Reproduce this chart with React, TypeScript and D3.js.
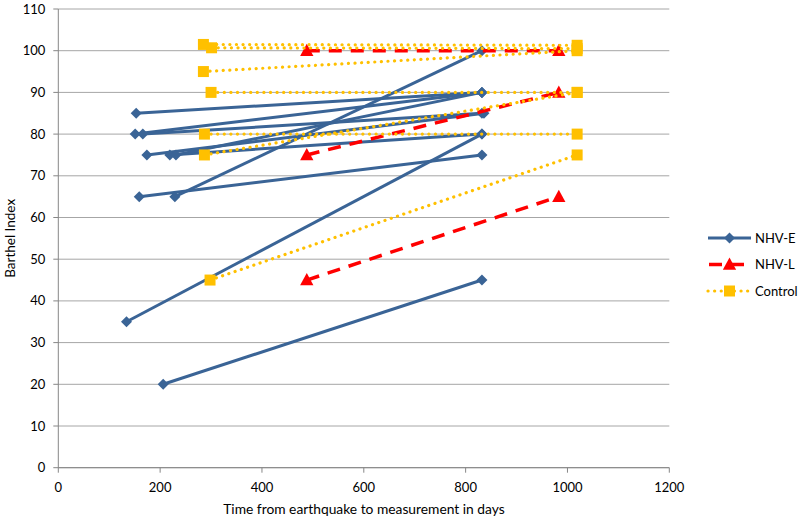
import React from "react";
import * as d3 from "d3";

// NHV-E (each patient: first and second measurement)
const eStartDays = [153, 151, 166, 174, 219, 231, 159, 229, 134, 206];
const eStartScores = [85, 80, 80, 75, 75, 75, 65, 65, 35, 20];
const eEndDays = [832, 832, 832, 836, 832, 832, 832, 832, 832, 832];
const eEndScores = [90, 90, 85, 85, 80, 90, 75, 100, 80, 45];

// NHV-L
const lStartDays = [488, 488, 488];
const lStartScores = [100, 75, 45];
const lEndDays = [983, 983, 983];
const lEndScores = [100, 90, 65];

// Control
const cStartDays = [285, 301, 285, 300, 287, 287, 298];
const cStartScores = [101.5, 100.7, 95, 90, 80, 75, 45];
const cEndDays = [1019, 1019, 1019, 1019, 1019, 1019, 1019];
const cEndScores = [101.3, 100.5, 100, 90, 80, 90, 75];

const xTicks = [0, 200, 400, 600, 800, 1000, 1200];
const yTicks = [0, 10, 20, 30, 40, 50, 60, 70, 80, 90, 100, 110];
const seriesNames = ["NHV-E", "NHV-L", "Control"];

const W = 798;
const H = 521;
const FONT = "Lato, 'Open Sans', sans-serif";

const BLUE = "#3A6496";
const RED = "#FF0000";
const YELLOW = "#FFC000";

const x = d3.scaleLinear().domain([0, 1200]).range([58.3, 669.3]);
const y = d3.scaleLinear().domain([0, 110]).range([467.7, 9]);

function diamond(cx: number, cy: number, r = 5.5) {
  return `M${cx},${cy - r}L${cx + r},${cy}L${cx},${cy + r}L${cx - r},${cy}Z`;
}
function triangle(cx: number, cy: number, r = 7) {
  return `M${cx},${cy - r}L${cx + r * 0.95},${cy + r * 0.75}L${cx - r * 0.95},${cy + r * 0.75}Z`;
}
function square(cx: number, cy: number, r = 5.5) {
  return `M${cx - r},${cy - r}h${2 * r}v${2 * r}h${-2 * r}Z`;
}

type Seg = { x0: number; y0: number; x1: number; y1: number };
function segs(sd: number[], ss: number[], ed: number[], es: number[]): Seg[] {
  return sd.map((d, i) => ({ x0: x(d), y0: y(ss[i]), x1: x(ed[i]), y1: y(es[i]) }));
}

const line = d3.line<[number, number]>();

export default function App() {
  const eSegs = segs(eStartDays, eStartScores, eEndDays, eEndScores);
  const lSegs = segs(lStartDays, lStartScores, lEndDays, lEndScores);
  const cSegs = segs(cStartDays, cStartScores, cEndDays, cEndScores);

  const legendY = [238, 264.5, 291];
  return (
    <svg
      width={W}
      height={H}
      style={{ position: "absolute", left: 0, top: 0, background: "#fff" }}
      fontFamily={FONT}
    >
      {/* gridlines */}
      {yTicks.map((t) => (
        <line key={t} x1={x(0)} x2={x(1200)} y1={y(t)} y2={y(t)} stroke="#a6a6a6" strokeWidth={1} />
      ))}
      {/* axes */}
      <line x1={x(0)} x2={x(0)} y1={y(0)} y2={y(110)} stroke="#868686" strokeWidth={1} />
      <line x1={x(0)} x2={x(1200)} y1={y(0)} y2={y(0)} stroke="#868686" strokeWidth={1} />
      {yTicks.map((t) => (
        <g key={"yt" + t}>
          <line x1={x(0) - 5} x2={x(0)} y1={y(t)} y2={y(t)} stroke="#868686" />
          <text x={x(0) - 13} y={y(t)} dy="0.35em" textAnchor="end" fontSize={13} fill="#000">
            {t}
          </text>
        </g>
      ))}
      {xTicks.map((t) => (
        <g key={"xt" + t}>
          <line x1={x(t)} x2={x(t)} y1={y(0)} y2={y(0) + 5} stroke="#868686" />
          <text x={x(t)} y={y(0) + 24} textAnchor="middle" fontSize={13} fill="#000">
            {t}
          </text>
        </g>
      ))}
      <text x={364} y={514} textAnchor="middle" fontSize={13.8} fill="#000">
        Time from earthquake to measurement in days
      </text>
      <text
        transform={`translate(15,${(y(0) + y(110)) / 2}) rotate(-90)`}
        textAnchor="middle"
        fontSize={13.5}
        fill="#000"
      >
        Barthel Index
      </text>

      {/* NHV-E */}
      {eSegs.map((s, i) => (
        <g key={"e" + i}>
          <path d={line([[s.x0, s.y0], [s.x1, s.y1]]) || ""} stroke={BLUE} strokeWidth={3} fill="none" />
          <path d={diamond(s.x0, s.y0)} fill={BLUE} />
          <path d={diamond(s.x1, s.y1)} fill={BLUE} />
        </g>
      ))}
      {/* NHV-L */}
      {lSegs.map((s, i) => (
        <g key={"l" + i}>
          <path
            d={line([[s.x0, s.y0], [s.x1, s.y1]]) || ""}
            stroke={RED}
            strokeWidth={3.5}
            strokeDasharray="13,9"
            fill="none"
          />
          <path d={triangle(s.x0, s.y0)} fill={RED} />
          <path d={triangle(s.x1, s.y1)} fill={RED} />
        </g>
      ))}
      {/* Control */}
      {cSegs.map((s, i) => (
        <g key={"c" + i}>
          <path
            d={line([[s.x0, s.y0], [s.x1, s.y1]]) || ""}
            stroke={YELLOW}
            strokeWidth={3.2}
            strokeDasharray="0.1,6.5"
            strokeLinecap="round"
            fill="none"
          />
          <path d={square(s.x0, s.y0)} fill={YELLOW} />
          <path d={square(s.x1, s.y1)} fill={YELLOW} />
        </g>
      ))}

      {/* legend */}
      {seriesNames.map((n, i) => {
        const ly = legendY[i];
        const lx0 = 708;
        const lx1 = 751;
        const cx = (lx0 + lx1) / 2;
        return (
          <g key={n}>
            {i === 0 && (
              <>
                <line x1={lx0} x2={lx1} y1={ly} y2={ly} stroke={BLUE} strokeWidth={3} />
                <path d={diamond(cx, ly)} fill={BLUE} />
              </>
            )}
            {i === 1 && (
              <>
                <line x1={lx0} x2={lx1} y1={ly} y2={ly} stroke={RED} strokeWidth={3.5} strokeDasharray="13,9" strokeDashoffset={-1} />
                <path d={triangle(cx, ly)} fill={RED} />
              </>
            )}
            {i === 2 && (
              <>
                <line x1={lx0} x2={lx1} y1={ly} y2={ly} stroke={YELLOW} strokeWidth={3.2} strokeDasharray="0.1,6.5" strokeLinecap="round" />
                <path d={square(cx, ly)} fill={YELLOW} />
              </>
            )}
            <text x={755} y={ly} dy="0.35em" fontSize={13} fill="#000">
              {n}
            </text>
          </g>
        );
      })}
    </svg>
  );
}
